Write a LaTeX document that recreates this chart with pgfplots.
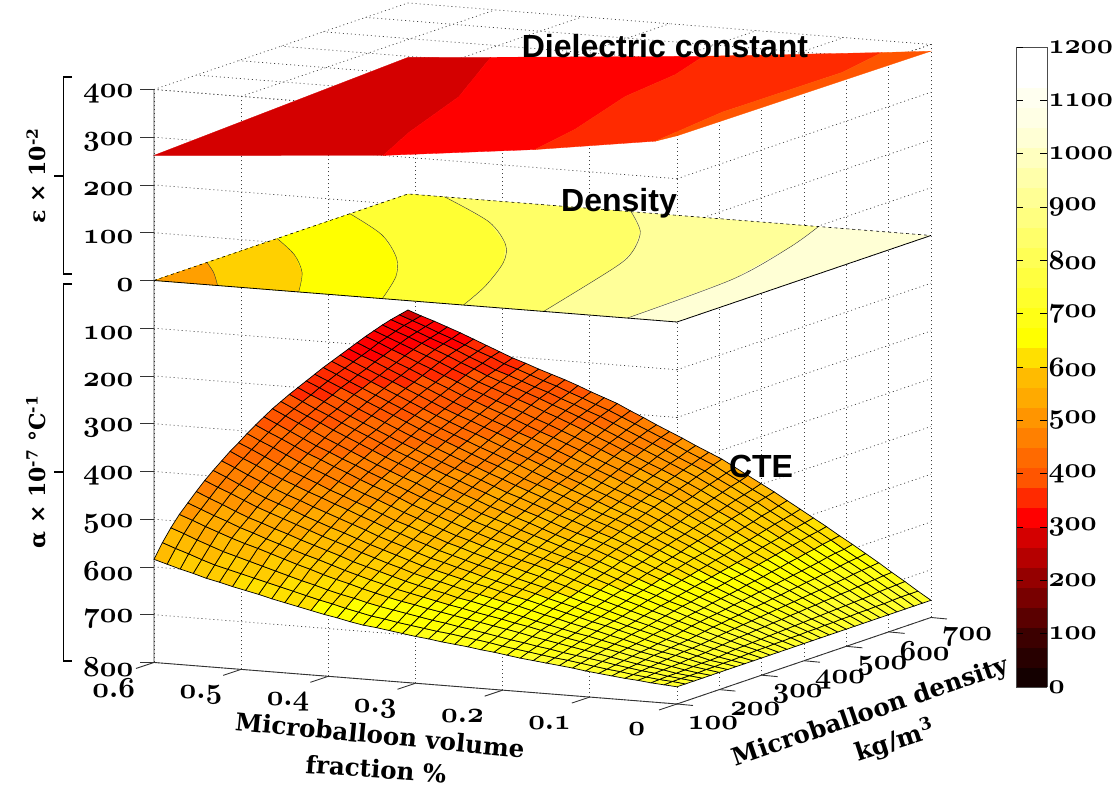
\documentclass[border=0pt]{standalone}
\usepackage{fontspec}
\usepackage{pgfplots}
\pgfplotsset{compat=1.18}
\setmainfont{DejaVu Serif}
\newfontfamily\arialb{Liberation Sans}[BoldFont={Liberation Sans Bold}]
\font\osn=cmmib10 at 29pt
\font\osnb=cmmib10 at 28pt
\pgfplotsset{colormap={refmap}{
HTML=(140000) HTML=(280000) HTML=(3C0000) HTML=(5A0000) HTML=(780000) HTML=(950000) HTML=(B50000) HTML=(D40000)
HTML=(FF0000) HTML=(FF2A00) HTML=(FF5500) HTML=(FF6A00) HTML=(FF8000) HTML=(FF9500) HTML=(FFAA00) HTML=(FFBB00)
HTML=(FFCC00) HTML=(FFE000) HTML=(FFFF00) HTML=(FFFF15) HTML=(FFFF2B) HTML=(FFFF40) HTML=(FFFF55) HTML=(FFFF6A)
HTML=(FFFF80) HTML=(FFFF95) HTML=(FFFFAA) HTML=(FFFFBF) HTML=(FFFFD5) HTML=(FFFFE5) HTML=(FFFFF0) HTML=(FFFFFF) HTML=(FFFFFF)}}
\definecolor{dA}{HTML}{FF9F00}\definecolor{dB}{HTML}{FFD000}\definecolor{dC}{HTML}{FFFF00}
\definecolor{dD}{HTML}{FFFF33}\definecolor{dE}{HTML}{FFFF66}\definecolor{dF}{HTML}{FFFF99}\definecolor{dG}{HTML}{FFFFD5}
\definecolor{eA}{HTML}{D40000}\definecolor{eB}{HTML}{FF0000}\definecolor{eC}{HTML}{FF2A00}\definecolor{eD}{HTML}{FF5500}
\begin{document}
\begin{tikzpicture}
\useasboundingbox (0pt,0pt) rectangle (1114pt,790pt);
\begin{axis}[
 at={(677pt,468pt)},anchor=origin,
 x={(-871.7pt,69.2pt)},y={(0.4233pt,0.1442pt)},z={(0pt,0.4775pt)},
 xmin=0,xmax=0.6,ymin=100,ymax=700,zmin=-800,zmax=400,
 clip=false,no markers,
 axis line style={draw=none},
 grid=major,grid style={black!75,line width=0.7pt,dash pattern=on 1pt off 3pt},
 colormap name=refmap,point meta min=0,point meta max=1200,
 xtick={0,0.1,0.2,0.3,0.4,0.5,0.6},
 xticklabels={0,0{\char58}1,0{\char58}2,0{\char58}3,0{\char58}4,0{\char58}5,0{\char58}6},
 ytick={100,200,300,400,500,600,700},
 yticklabels={100,200,300,400,500,600,700},
 ztick={-800,-700,-600,-500,-400,-300,-200,-100,0,100,200,300,400},
 zticklabels={800,700,600,500,400,300,200,100,0,100,200,300,400},
 tick label style={font=\osn},
 x tick label style={anchor=center,xshift=-27pt,yshift=-21pt},
 y tick label style={anchor=center,xshift=22pt,yshift=-18pt},
 z tick label style={anchor=east,xshift=-4pt,yshift=0pt},
 xtick pos=left,ytick pos=left,ztick pos=left,
 tick style={draw=none},
 major tick length=14pt,tick align=outside,
]
% dielectric constant plate, z levels of the colour bands
\addplot3[fill=eA,draw=eA,line width=0.3pt] coordinates {(.6,100,262)(.337,100,300)(.376,241,300)(.427,464,300)(.505,700,300)(.6,700,286)} --cycle;
\addplot3[fill=eB,draw=eB,line width=0.3pt] coordinates {(.337,100,300)(.163,100,337.5)(.181,232,337.5)(.224,439,337.5)(.237,584,337.5)(.261,700,337.5)(.505,700,300)(.427,464,300)(.376,241,300)} --cycle;
\addplot3[fill=eC,draw=eC,line width=0.3pt] coordinates {(.163,100,337.5)(.04,100,371)(.025,100,375)(.042,293,375)(.039,571,375)(.056,700,375)(.261,700,337.5)(.237,584,337.5)(.224,439,337.5)(.181,232,337.5)} --cycle;
\addplot3[fill=eD,draw=eD,line width=0.3pt] coordinates {(.025,100,375)(0,100,390)(0,700,386)(.056,700,375)(.039,571,375)(.042,293,375)} --cycle;
% density plate
\addplot3[fill=dG,draw=none] coordinates {(.6,100,0)(0,100,0)(0,700,0)(.6,700,0)} --cycle;
\addplot3[fill=dF,draw=none] coordinates {(.6,100,0)(.6,700,0)(.129,700,0)(.099,570,0)(.065,365,0)(.057,100,0)} --cycle;
\addplot3[fill=dE,draw=none] coordinates {(.6,100,0)(.6,700,0)(.344,700,0)(.281,592,0)(.234,477,0)(.207,380,0)(.153,100,0)} --cycle;
\addplot3[fill=dD,draw=none] coordinates {(.6,100,0)(.6,700,0)(.558,700,0)(.449,580,0)(.371,459,0)(.324,357,0)(.276,215,0)(.245,100,0)} --cycle;
\addplot3[fill=dC,draw=none] coordinates {(.6,100,0)(.6,563,0)(.513,459,0)(.437,337,0)(.386,231,0)(.338,100,0)} --cycle;
\addplot3[fill=dB,draw=none] coordinates {(.6,100,0)(.6,391,0)(.54,308,0)(.484,211,0)(.434,100,0)} --cycle;
\addplot3[fill=dA,draw=none] coordinates {(.6,100,0)(.6,225,0)(.566,171,0)(.527,100,0)} --cycle;
\addplot3[smooth,black!80,line width=0.4pt] coordinates {(.129,700,0)(.099,570,0)(.065,365,0)(.057,100,0)};
\addplot3[smooth,black!80,line width=0.4pt] coordinates {(.344,700,0)(.281,592,0)(.234,477,0)(.207,380,0)(.153,100,0)};
\addplot3[smooth,black!80,line width=0.4pt] coordinates {(.558,700,0)(.449,580,0)(.371,459,0)(.324,357,0)(.276,215,0)(.245,100,0)};
\addplot3[smooth,black!80,line width=0.4pt] coordinates {(.6,563,0)(.513,459,0)(.437,337,0)(.386,231,0)(.338,100,0)};
\addplot3[smooth,black!80,line width=0.4pt] coordinates {(.6,391,0)(.54,308,0)(.484,211,0)(.434,100,0)};
\addplot3[smooth,black!80,line width=0.4pt] coordinates {(.6,225,0)(.566,171,0)(.527,100,0)};
\addplot3[black,line width=0.8pt] coordinates {(.6,100,0)(0,100,0)(0,700,0)};
\addplot3[black,dashed,line width=0.6pt] coordinates {(.6,100,0)(.6,700,0)(0,700,0)};
% CTE surface: phi 0..0.6 step 0.015 within a row, rho 100..700 step 20 between rows
\addplot3[surf,shader=faceted,faceted color=black,line width=0.7pt,colormap access=piecewise constant,
 mesh/rows=31,mesh/cols=41,point meta={-\thisrowno{0}+max(0,(450+\thisrowno{0})*0.2)}]
 table[header=false,row sep=\\,x expr={mod(\coordindex,41)*0.015},y expr={100+20*floor((\coordindex+0.5)/41)},z index=0]{
-764\\-762\\-760\\-757\\-755\\-752\\-749\\-746\\-742\\-739\\-736\\-733\\-730\\-726\\-722\\-719\\-715\\-712\\-709\\-705\\-702\\-698\\-694\\-690\\-687\\-682\\-676\\-671\\-665\\-659\\-653\\-647\\-640\\-634\\-628\\-621\\-615\\-607\\-600\\-592\\-584\\
-764\\-761\\-759\\-756\\-753\\-749\\-746\\-742\\-738\\-734\\-731\\-727\\-723\\-719\\-715\\-710\\-706\\-702\\-698\\-695\\-691\\-687\\-683\\-678\\-674\\-668\\-662\\-655\\-649\\-642\\-635\\-628\\-621\\-614\\-607\\-600\\-593\\-584\\-574\\-565\\-555\\
-764\\-761\\-758\\-754\\-751\\-747\\-743\\-738\\-734\\-730\\-726\\-721\\-717\\-712\\-708\\-703\\-698\\-693\\-689\\-684\\-680\\-675\\-670\\-665\\-660\\-654\\-647\\-641\\-634\\-626\\-619\\-611\\-603\\-595\\-587\\-579\\-571\\-561\\-551\\-540\\-530\\
-764\\-761\\-758\\-753\\-749\\-745\\-740\\-735\\-730\\-725\\-720\\-715\\-710\\-705\\-699\\-694\\-689\\-684\\-679\\-674\\-669\\-664\\-658\\-653\\-647\\-640\\-633\\-625\\-618\\-610\\-601\\-593\\-584\\-575\\-566\\-558\\-549\\-539\\-529\\-518\\-508\\
-764\\-761\\-757\\-752\\-747\\-742\\-737\\-731\\-726\\-721\\-715\\-710\\-704\\-698\\-692\\-687\\-681\\-676\\-671\\-665\\-660\\-654\\-648\\-642\\-636\\-628\\-621\\-613\\-605\\-596\\-587\\-579\\-570\\-561\\-552\\-542\\-533\\-522\\-512\\-501\\-490\\
-764\\-760\\-756\\-751\\-745\\-739\\-734\\-728\\-722\\-716\\-710\\-705\\-699\\-693\\-687\\-680\\-674\\-668\\-662\\-656\\-651\\-644\\-638\\-632\\-625\\-617\\-609\\-601\\-593\\-583\\-574\\-565\\-556\\-546\\-537\\-527\\-518\\-507\\-495\\-484\\-472\\
-764\\-760\\-755\\-749\\-743\\-738\\-732\\-725\\-718\\-712\\-705\\-699\\-693\\-686\\-680\\-673\\-666\\-660\\-654\\-648\\-642\\-635\\-628\\-622\\-615\\-606\\-598\\-589\\-580\\-570\\-561\\-552\\-542\\-532\\-522\\-512\\-502\\-490\\-478\\-467\\-455\\
-764\\-759\\-755\\-748\\-741\\-735\\-729\\-722\\-714\\-707\\-700\\-694\\-687\\-680\\-673\\-666\\-659\\-653\\-646\\-639\\-633\\-626\\-619\\-612\\-605\\-596\\-587\\-578\\-569\\-559\\-549\\-540\\-530\\-520\\-509\\-499\\-489\\-477\\-465\\-452\\-440\\
-764\\-759\\-754\\-747\\-740\\-733\\-726\\-718\\-711\\-704\\-696\\-689\\-682\\-674\\-667\\-660\\-652\\-645\\-639\\-632\\-625\\-617\\-610\\-602\\-595\\-586\\-576\\-567\\-558\\-547\\-537\\-527\\-517\\-507\\-496\\-486\\-475\\-463\\-451\\-438\\-426\\
-764\\-758\\-752\\-745\\-738\\-731\\-724\\-715\\-707\\-700\\-692\\-684\\-676\\-669\\-661\\-653\\-645\\-638\\-631\\-623\\-616\\-609\\-601\\-593\\-585\\-575\\-566\\-556\\-547\\-536\\-526\\-515\\-505\\-494\\-484\\-473\\-462\\-450\\-437\\-425\\-412\\
-764\\-757\\-750\\-743\\-736\\-728\\-720\\-711\\-703\\-695\\-687\\-679\\-671\\-663\\-655\\-646\\-638\\-630\\-623\\-615\\-608\\-600\\-592\\-583\\-575\\-565\\-556\\-546\\-537\\-526\\-515\\-505\\-494\\-484\\-472\\-461\\-450\\-438\\-425\\-412\\-400\\
-764\\-756\\-749\\-741\\-733\\-725\\-716\\-708\\-699\\-691\\-682\\-674\\-665\\-656\\-648\\-639\\-630\\-622\\-614\\-607\\-599\\-591\\-583\\-574\\-566\\-556\\-546\\-536\\-526\\-515\\-504\\-494\\-483\\-472\\-460\\-449\\-438\\-425\\-412\\-400\\-387\\
-764\\-756\\-748\\-739\\-731\\-722\\-713\\-704\\-695\\-686\\-677\\-668\\-660\\-650\\-641\\-632\\-623\\-615\\-607\\-599\\-591\\-582\\-574\\-565\\-556\\-546\\-536\\-526\\-516\\-504\\-493\\-483\\-472\\-460\\-449\\-437\\-426\\-413\\-400\\-388\\-375\\
-764\\-755\\-747\\-738\\-729\\-720\\-710\\-701\\-691\\-683\\-673\\-664\\-655\\-645\\-635\\-625\\-616\\-608\\-600\\-592\\-583\\-574\\-565\\-556\\-547\\-536\\-526\\-516\\-506\\-495\\-484\\-473\\-462\\-450\\-439\\-427\\-416\\-403\\-390\\-377\\-364\\
-764\\-755\\-746\\-736\\-727\\-717\\-708\\-698\\-688\\-678\\-668\\-659\\-649\\-639\\-629\\-619\\-610\\-602\\-593\\-584\\-575\\-566\\-556\\-547\\-538\\-527\\-517\\-507\\-497\\-485\\-475\\-464\\-453\\-441\\-429\\-417\\-405\\-392\\-379\\-366\\-353\\
-764\\-754\\-745\\-735\\-725\\-715\\-705\\-694\\-684\\-674\\-664\\-653\\-643\\-632\\-622\\-612\\-602\\-594\\-586\\-577\\-567\\-557\\-548\\-538\\-529\\-518\\-508\\-497\\-487\\-476\\-465\\-454\\-443\\-431\\-419\\-407\\-395\\-382\\-370\\-357\\-344\\
-764\\-754\\-744\\-733\\-723\\-712\\-702\\-691\\-680\\-670\\-659\\-648\\-638\\-627\\-616\\-605\\-595\\-586\\-578\\-569\\-559\\-549\\-540\\-530\\-520\\-509\\-499\\-488\\-478\\-467\\-456\\-445\\-434\\-422\\-410\\-398\\-386\\-373\\-361\\-348\\-335\\
-764\\-753\\-743\\-732\\-721\\-710\\-699\\-688\\-677\\-666\\-655\\-643\\-632\\-621\\-610\\-599\\-589\\-580\\-570\\-560\\-551\\-541\\-531\\-521\\-512\\-501\\-490\\-480\\-470\\-459\\-448\\-437\\-426\\-414\\-402\\-390\\-378\\-365\\-352\\-340\\-327\\
-764\\-753\\-742\\-730\\-719\\-708\\-696\\-685\\-673\\-662\\-650\\-638\\-627\\-615\\-604\\-593\\-582\\-572\\-563\\-553\\-544\\-533\\-523\\-513\\-503\\-492\\-482\\-471\\-461\\-450\\-439\\-428\\-417\\-405\\-393\\-381\\-369\\-356\\-344\\-331\\-319\\
-764\\-752\\-741\\-729\\-717\\-705\\-693\\-681\\-669\\-658\\-646\\-633\\-622\\-610\\-598\\-587\\-575\\-565\\-556\\-546\\-536\\-525\\-515\\-505\\-495\\-484\\-473\\-463\\-452\\-441\\-430\\-419\\-408\\-396\\-384\\-372\\-360\\-347\\-335\\-323\\-311\\
-764\\-752\\-740\\-727\\-715\\-703\\-691\\-678\\-666\\-654\\-641\\-629\\-616\\-604\\-592\\-581\\-569\\-559\\-549\\-538\\-528\\-518\\-507\\-497\\-486\\-475\\-465\\-454\\-444\\-433\\-422\\-411\\-400\\-388\\-376\\-364\\-352\\-340\\-328\\-315\\-303\\
-764\\-751\\-739\\-726\\-713\\-700\\-688\\-675\\-662\\-650\\-637\\-624\\-611\\-599\\-587\\-574\\-562\\-552\\-542\\-531\\-521\\-510\\-500\\-489\\-478\\-467\\-456\\-446\\-435\\-424\\-414\\-403\\-392\\-380\\-368\\-356\\-344\\-332\\-320\\-308\\-296\\
-764\\-751\\-738\\-724\\-711\\-698\\-685\\-671\\-658\\-646\\-632\\-619\\-606\\-593\\-581\\-568\\-555\\-545\\-534\\-524\\-513\\-502\\-492\\-481\\-470\\-459\\-448\\-437\\-426\\-416\\-405\\-395\\-384\\-372\\-360\\-348\\-336\\-325\\-313\\-301\\-289\\
-764\\-750\\-737\\-723\\-709\\-695\\-682\\-668\\-654\\-641\\-627\\-614\\-600\\-587\\-574\\-561\\-548\\-538\\-527\\-516\\-505\\-494\\-483\\-472\\-461\\-450\\-439\\-429\\-418\\-408\\-397\\-387\\-376\\-364\\-352\\-341\\-329\\-317\\-305\\-294\\-282\\
-764\\-750\\-736\\-721\\-707\\-693\\-679\\-664\\-650\\-636\\-623\\-609\\-595\\-582\\-568\\-555\\-542\\-531\\-519\\-508\\-497\\-486\\-475\\-463\\-452\\-441\\-431\\-420\\-409\\-399\\-389\\-378\\-368\\-356\\-345\\-333\\-321\\-310\\-298\\-287\\-275\\
-764\\-749\\-735\\-720\\-705\\-690\\-676\\-661\\-646\\-632\\-618\\-604\\-589\\-576\\-562\\-549\\-535\\-523\\-512\\-500\\-489\\-478\\-466\\-455\\-444\\-433\\-422\\-412\\-401\\-391\\-381\\-370\\-360\\-348\\-337\\-325\\-314\\-302\\-291\\-279\\-268\\
-764\\-749\\-734\\-718\\-703\\-688\\-673\\-657\\-642\\-628\\-613\\-599\\-584\\-570\\-556\\-542\\-529\\-517\\-505\\-494\\-482\\-470\\-458\\-447\\-435\\-424\\-413\\-403\\-392\\-382\\-372\\-362\\-352\\-340\\-329\\-317\\-306\\-295\\-284\\-273\\-262\\
-764\\-748\\-732\\-716\\-700\\-685\\-669\\-654\\-638\\-623\\-608\\-593\\-578\\-564\\-550\\-536\\-522\\-510\\-498\\-486\\-474\\-463\\-451\\-439\\-427\\-416\\-405\\-395\\-384\\-374\\-364\\-355\\-345\\-333\\-322\\-310\\-299\\-288\\-277\\-267\\-256\\
-764\\-747\\-731\\-715\\-698\\-682\\-666\\-650\\-634\\-619\\-604\\-589\\-573\\-559\\-544\\-530\\-516\\-504\\-492\\-479\\-467\\-455\\-443\\-431\\-419\\-409\\-398\\-388\\-377\\-368\\-358\\-348\\-339\\-327\\-316\\-304\\-293\\-283\\-272\\-261\\-251\\
-764\\-747\\-730\\-713\\-696\\-680\\-664\\-647\\-631\\-615\\-600\\-584\\-568\\-554\\-539\\-524\\-509\\-497\\-485\\-472\\-460\\-448\\-436\\-424\\-412\\-402\\-391\\-381\\-370\\-361\\-351\\-341\\-332\\-320\\-310\\-299\\-288\\-278\\-267\\-257\\-247\\
-764\\-747\\-729\\-712\\-694\\-677\\-660\\-644\\-627\\-611\\-595\\-579\\-563\\-548\\-533\\-518\\-503\\-491\\-479\\-466\\-454\\-442\\-429\\-417\\-404\\-394\\-384\\-373\\-363\\-354\\-345\\-335\\-326\\-315\\-304\\-293\\-282\\-272\\-262\\-253\\-243\\
};
\pgfplotsinvokeforeach{-800,-700,-600,-500,-400,-300,-200,-100,0,100,200,300,400}{\draw[black!80,line width=0.9pt] (axis cs:0.6,100,#1) -- ++(-14pt,0pt);}
\pgfplotsinvokeforeach{0,0.1,0.2,0.3,0.4,0.5,0.6}{\draw[black!80,line width=0.9pt] (axis cs:#1,100,-800) -- ++(-18pt,-6pt);}
\pgfplotsinvokeforeach{100,200,300,400,500,600,700}{\draw[black!80,line width=0.9pt] (axis cs:0,#1,-800) -- ++(16pt,-1.5pt);}
\draw[black!80,line width=0.9pt] (axis cs:0.6,100,400) -- (axis cs:0.6,100,-800) -- (axis cs:0,100,-800) -- (axis cs:0,700,-800);
\end{axis}
% colour bar
\begin{axis}[
 at={(1016pt,103pt)},anchor=south west,scale only axis,width=31pt,height=640pt,
 view={0}{90},xmin=0,xmax=1,ymin=0,ymax=1200,
 xtick=\empty,ytick={0,100,200,300,400,500,600,700,800,900,1000,1100,1200},
 yticklabels={0,100,200,300,400,500,600,700,800,900,1000,1100,1200},
 yticklabel pos=right,ytick pos=both,tick align=inside,major tick length=7pt,
 tick label style={font=\osnb},y tick label style={xshift=-2pt},tick style={black,line width=0.8pt},
 axis line style={black!70,line width=0.9pt},axis on top,
 colormap name=refmap,point meta min=0,point meta max=1200,
]
\addplot3[surf,shader=flat,colormap access=piecewise constant,mesh/rows=33,mesh/cols=2,point meta=y] table[row sep=\\,header=false]{
0 0 0\\1 0 0\\0 37.5 0\\1 37.5 0\\0 75 0\\1 75 0\\0 112.5 0\\1 112.5 0\\0 150 0\\1 150 0\\0 187.5 0\\1 187.5 0\\0 225 0\\1 225 0\\0 262.5 0\\1 262.5 0\\
0 300 0\\1 300 0\\0 337.5 0\\1 337.5 0\\0 375 0\\1 375 0\\0 412.5 0\\1 412.5 0\\0 450 0\\1 450 0\\0 487.5 0\\1 487.5 0\\0 525 0\\1 525 0\\0 562.5 0\\1 562.5 0\\
0 600 0\\1 600 0\\0 637.5 0\\1 637.5 0\\0 675 0\\1 675 0\\0 712.5 0\\1 712.5 0\\0 750 0\\1 750 0\\0 787.5 0\\1 787.5 0\\0 825 0\\1 825 0\\0 862.5 0\\1 862.5 0\\
0 900 0\\1 900 0\\0 937.5 0\\1 937.5 0\\0 975 0\\1 975 0\\0 1012.5 0\\1 1012.5 0\\0 1050 0\\1 1050 0\\0 1087.5 0\\1 1087.5 0\\0 1125 0\\1 1125 0\\0 1162.5 0\\1 1162.5 0\\0 1200 0\\1 1200 0\\
};
\end{axis}
% annotations
\node[font=\arialb\bfseries\fontsize{32}{32}\selectfont] at (665pt,744pt) {Dielectric constant};
\node[font=\arialb\bfseries\fontsize{32}{32}\selectfont] at (619pt,587pt) {Density};
\node[font=\arialb\bfseries\fontsize{32}{32}\selectfont] at (761pt,324pt) {CTE};
\node[font=\bfseries\fontsize{24.5}{24.5}\selectfont,rotate=-5.5] at (380pt,55pt) {Microballoon volume};
\node[font=\bfseries\fontsize{24.5}{24.5}\selectfont,rotate=-4] at (376pt,21pt) {fraction \%};
\node[font=\bfseries\fontsize{24.5}{24.5}\selectfont,rotate=19] at (871pt,77pt) {Microballoon density};
\node[font=\bfseries\fontsize{24.5}{24.5}\selectfont,rotate=18] at (895pt,49pt) {kg/m\textsuperscript{3}};
\node[font=\bfseries\fontsize{22}{22}\selectfont,rotate=90] at (36pt,614pt) {ε × 10\textsuperscript{-2}};
\node[font=\bfseries\fontsize{22}{22}\selectfont,rotate=90] at (36pt,318pt) {α × 10\textsuperscript{-7} °C\textsuperscript{-1}};
\draw[black,line width=1.7pt] (72pt,713pt) -- (63.5pt,713pt) -- (63.5pt,516pt) -- (72pt,516pt);
\draw[black,line width=2.5pt] (54pt,614pt) -- (63.5pt,614pt);
\draw[black,line width=1.7pt] (72pt,506pt) -- (63.5pt,506pt) -- (63.5pt,129pt) -- (72pt,129pt);
\draw[black,line width=2.5pt] (54pt,318pt) -- (63.5pt,318pt);
\end{tikzpicture}
\end{document}
